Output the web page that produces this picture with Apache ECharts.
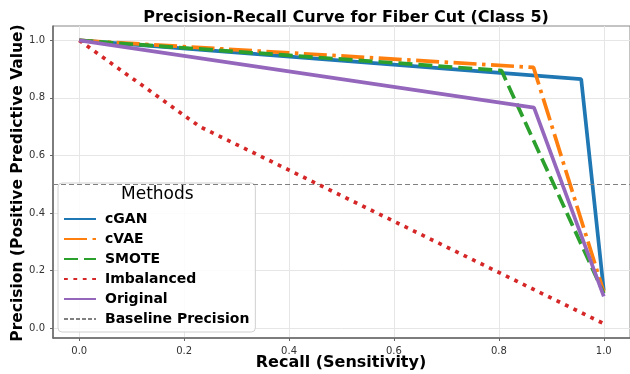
<!DOCTYPE html>
<html lang="en">
<head>
    <meta charset="UTF-8">
    <title>Precision-Recall Curve</title>
    <script src="https://cdn.jsdelivr.net/npm/echarts@6/dist/echarts.min.js"></script>
</head>
<body style="margin:0;background:#fff;">
<div id="prChart" style="width:630px;height:374px;"></div>
<script type="text/javascript">
    // data: [recall, precision]
    var methods = ['cGAN', 'cVAE', 'SMOTE', 'Imbalanced', 'Original'];
    var cganPts = [[0, 1.0], [0.957, 0.865], [1.0, 0.13]];
    var cvaePts = [[0, 1.0], [0.866, 0.906], [1.0, 0.125]];
    var smotePts = [[0, 1.0], [0.805, 0.895], [1.0, 0.12]];
    var imbalancedPts = [[0, 1.0], [0.23, 0.70], [1.0, 0.015]];
    var originalPts = [[0, 1.0], [0.867, 0.766], [1.0, 0.11]];
    var baseline = 0.5;
    var tickValues = [0, 0.2, 0.4, 0.6, 0.8, 1.0];

    var colors = ['#1f77b4', '#ff7f0e', '#2ca02c', '#d62728', '#9467bd'];
    var dashes = ['solid', [23, 5.5, 3.5, 5.5], [14, 6], [3.8, 5.6], 'solid'];
    var allPts = [cganPts, cvaePts, smotePts, imbalancedPts, originalPts];

    var font = 'DejaVu Sans';
    var chart = echarts.init(document.getElementById('prChart'));

    var series = [];
    for (var i = 0; i < methods.length; i++) {
        series.push({
            name: methods[i],
            type: 'line',
            data: allPts[i],
            symbol: 'none',
            z: 3 + i,
            lineStyle: { color: colors[i], width: 3.7, type: dashes[i], cap: 'butt' },
            itemStyle: { color: colors[i] }
        });
    }
    series.push({
        name: 'Baseline Precision',
        type: 'line',
        data: [],
        symbol: 'none',
        lineStyle: { color: '#808080', width: 1, type: [4, 2] },
        itemStyle: { color: '#808080' },
        markLine: {
            silent: true,
            symbol: 'none',
            label: { show: false },
            lineStyle: { color: '#808080', width: 1.2, type: [5, 3] },
            data: [{ yAxis: baseline }]
        }
    });

    var gridLine = { show: true, lineStyle: { color: '#e6e6e6', width: 1 } };
    var tickLabel = { color: '#333', fontFamily: font, fontSize: 10, customValues: tickValues,
        formatter: function (v) { return v.toFixed(1); } };

    var option = {
        animation: false,
        textStyle: { fontFamily: font },
        title: {
            text: 'Precision-Recall Curve for Fiber Cut (Class 5)',
            left: 341, top: 5, textAlign: 'center',
            textStyle: { fontFamily: font, fontSize: 16, fontWeight: 'bold', color: '#000' }
        },
        grid: { left: 53, right: 0, top: 26, bottom: 36, outerBoundsMode: 'none', containLabel: false,
            show: true, borderColor: '#888', borderWidth: 1 },
        xAxis: {
            type: 'value', min: -0.05, max: 1.05,
            axisLine: { show: true, onZero: false, lineStyle: { color: '#666', width: 1.5 } },
            axisTick: { show: true, length: 3, customValues: tickValues, lineStyle: { color: '#666' } },
            axisLabel: tickLabel,
            splitLine: gridLine
        },
        yAxis: {
            type: 'value', min: -0.035, max: 1.05,
            axisLine: { show: true, onZero: false, lineStyle: { color: '#666', width: 1.5 } },
            axisTick: { show: true, length: 3, customValues: tickValues, lineStyle: { color: '#666' } },
            axisLabel: tickLabel,
            splitLine: gridLine
        },
        legend: {
            data: methods.concat(['Baseline Precision']),
            orient: 'vertical',
            left: 58, top: 183,
            padding: [29, 6, 6, 5],
            itemWidth: 32, itemHeight: 14, itemGap: 6,
            itemStyle: { opacity: 0 },
            backgroundColor: 'rgba(255,255,255,0.85)',
            borderColor: '#d0d0d0', borderWidth: 1, borderRadius: 4,
            textStyle: { fontFamily: font, fontSize: 14, fontWeight: 'bold', color: '#000', padding: [0, 0, 0, 4] }
        },
        graphic: [{
            type: 'text', left: 121, top: 186, z: 100,
            style: { text: 'Methods', font: '17px "DejaVu Sans"', fill: '#000' }
        }, {
            type: 'text', x: 341, y: 363, z: 100,
            style: { text: 'Recall (Sensitivity)', font: 'bold 16px "DejaVu Sans"', fill: '#000',
                textAlign: 'center', textVerticalAlign: 'middle' }
        }, {
            type: 'text', x: 18, y: 183, rotation: Math.PI / 2, z: 100,
            style: { text: 'Precision (Positive Predictive Value)', font: 'bold 15.5px "DejaVu Sans"', fill: '#000',
                textAlign: 'center', textVerticalAlign: 'middle' }
        }],
        series: series
    };
    chart.setOption(option);
</script>
</body>
</html>
